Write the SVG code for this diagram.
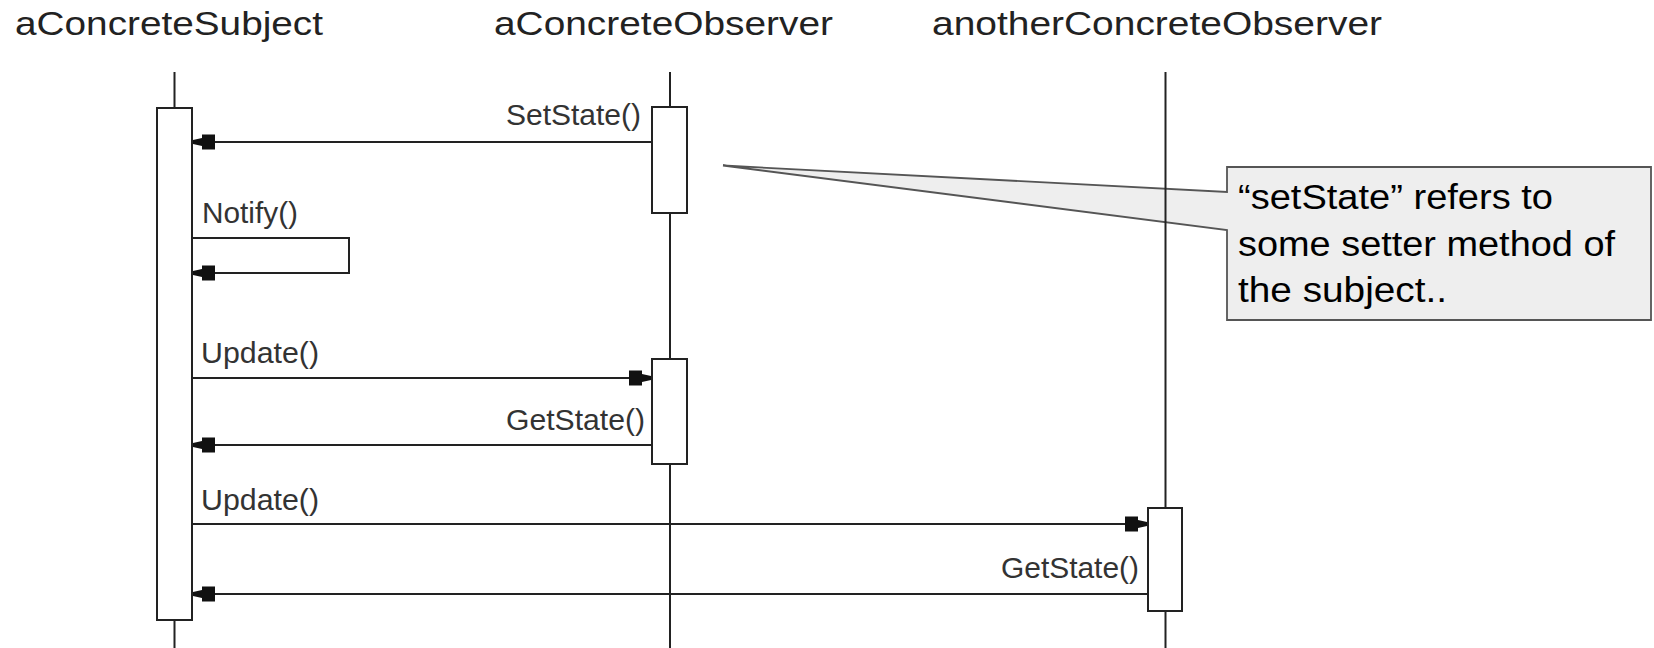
<svg xmlns="http://www.w3.org/2000/svg" width="1654" height="648" viewBox="0 0 1654 648">
<style>
text{font-family:"Liberation Sans",Arial,Helvetica,sans-serif}
.title{font-size:33px;fill:#222}
.lbl{font-size:29px;fill:#333}
.note{font-size:35px;fill:#000}
.life{stroke:#222;stroke-width:2;fill:none}
.act{fill:#fff;stroke:#222;stroke-width:2}
.msg{stroke:#222;stroke-width:2;fill:none;marker-end:url(#ah)}
.callout{fill:#eeeeee;stroke:#555555;stroke-width:1.8}
</style>
<defs>
<marker id="ah" markerUnits="userSpaceOnUse" markerWidth="24" markerHeight="18" viewBox="0 0 24 18" refX="23" refY="9" orient="auto">
<path d="M1,1.5 L14,1.5 L14,5 L23,7 L23,11 L14,13 L14,16.5 L1,16.5 Z" fill="#111"/>
</marker>
</defs>

<g id="note">
<path class="callout" d="M1227,167 H1651 V320 H1227 V230 L723,165.5 L1227,192 Z"/>
<text class="note" x="1238" y="209" textLength="315" lengthAdjust="spacingAndGlyphs">“setState” refers to</text>
<text class="note" x="1238" y="256" textLength="377" lengthAdjust="spacingAndGlyphs">some setter method of</text>
<text class="note" x="1238" y="302" textLength="209" lengthAdjust="spacingAndGlyphs">the subject..</text>
</g>

<g id="aConcreteSubject">
<text class="title" x="15" y="35" textLength="308" lengthAdjust="spacingAndGlyphs">aConcreteSubject</text>
<line class="life" x1="174.5" y1="72" x2="174.5" y2="648"/>
<rect class="act" x="157" y="108" width="35" height="512"/>
</g>

<g id="aConcreteObserver">
<text class="title" x="494" y="35" textLength="339" lengthAdjust="spacingAndGlyphs">aConcreteObserver</text>
<line class="life" x1="670" y1="72" x2="670" y2="648"/>
<rect class="act" x="652" y="107" width="35" height="106"/>
<rect class="act" x="652" y="359" width="35" height="105"/>
</g>

<g id="anotherConcreteObserver">
<text class="title" x="932" y="35" textLength="450" lengthAdjust="spacingAndGlyphs">anotherConcreteObserver</text>
<line class="life" x1="1165.5" y1="72" x2="1165.5" y2="648"/>
<rect class="act" x="1148" y="508" width="34" height="103"/>
</g>

<g id="connectors">
<line class="msg" x1="652" y1="142" x2="193" y2="142"/>
<text class="lbl" x="506" y="125" textLength="135" lengthAdjust="spacingAndGlyphs">SetState()</text>
<path class="msg" d="M192,238 H349 V273 H193"/>
<text class="lbl" x="202" y="223" textLength="96" lengthAdjust="spacingAndGlyphs">Notify()</text>
<line class="msg" x1="192" y1="378" x2="651" y2="378"/>
<text class="lbl" x="201" y="363" textLength="118" lengthAdjust="spacingAndGlyphs">Update()</text>
<line class="msg" x1="652" y1="445" x2="193" y2="445"/>
<text class="lbl" x="506" y="430" textLength="139" lengthAdjust="spacingAndGlyphs">GetState()</text>
<line class="msg" x1="192" y1="524" x2="1147" y2="524"/>
<text class="lbl" x="201" y="510" textLength="118" lengthAdjust="spacingAndGlyphs">Update()</text>
<line class="msg" x1="1148" y1="594" x2="193" y2="594"/>
<text class="lbl" x="1001" y="578" textLength="138" lengthAdjust="spacingAndGlyphs">GetState()</text>
</g>
</svg>
